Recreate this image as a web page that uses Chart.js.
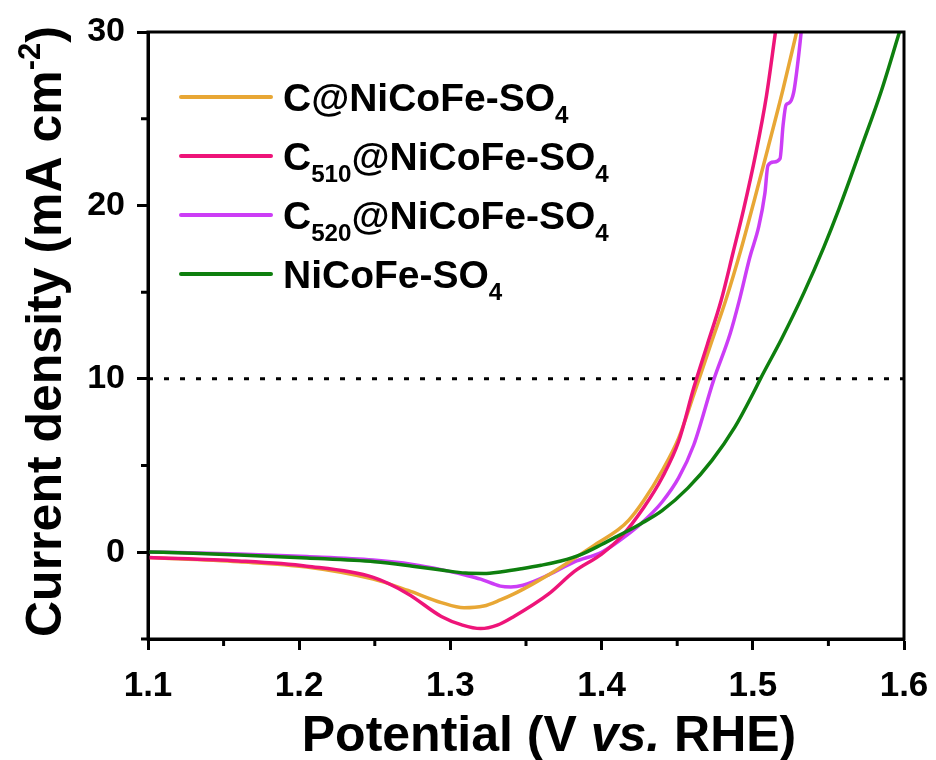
<!DOCTYPE html>
<html><head><meta charset="utf-8">
<script src="https://cdn.jsdelivr.net/npm/chart.js@4/dist/chart.umd.min.js"></script>
<style>html,body{margin:0;padding:0;background:#fff;}canvas{display:block;}</style>
</head><body>
<canvas id="c" width="936" height="760"></canvas>
<script>
// ---- series names & colours ----
const seriesNames = ['C@NiCoFe-SO₄', 'C₅₁₀@NiCoFe-SO₄', 'C₅₂₀@NiCoFe-SO₄', 'NiCoFe-SO₄'];
const seriesColors = ['#E8A735', '#EE1479', '#CC3DF6', '#0E7F0E'];

// ---- C@NiCoFe-SO4 ----
const potentialC = [1.100,1.160,1.205,1.249,1.272,1.294,1.309,1.322,1.333,1.342,1.354,1.365,1.382,1.395,1.411,1.418,1.428,1.440,1.451,1.461,1.473,1.482,1.492,1.501,1.510,1.520,1.529];
const currentC   = [-0.30,-0.55,-0.85,-1.55,-2.20,-2.90,-3.20,-3.10,-2.75,-2.40,-1.85,-1.30,-0.35,0.40,1.30,1.85,3.00,4.70,6.60,9.10,12.2,14.5,17.4,20.3,23.3,26.7,30.0];

// ---- C510@NiCoFe-SO4 ----
const potentialC510 = [1.100,1.160,1.205,1.249,1.272,1.294,1.308,1.320,1.331,1.342,1.365,1.382,1.400,1.413,1.428,1.440,1.451,1.461,1.470,1.479,1.487,1.494,1.502,1.509,1.515];
const currentC510   = [-0.30,-0.50,-0.80,-1.45,-2.40,-3.70,-4.20,-4.40,-4.20,-3.70,-2.40,-1.10,-0.10,0.90,2.60,4.30,6.40,9.50,12.0,14.5,17.3,19.8,23.0,26.3,30.0];

// ---- C520@NiCoFe-SO4 ----
const potentialC520 = [1.100,1.160,1.205,1.249,1.275,1.294,1.309,1.320,1.333,1.340,1.348,1.365,1.382,1.400,1.413,1.426,1.440,1.451,1.461,1.474,1.485,1.491,1.498,1.504,1.508,1.510,1.514,1.518,1.520,1.522,1.524,1.527,1.530,1.532];
const currentC520   = [0.02,-0.10,-0.25,-0.45,-0.70,-1.00,-1.30,-1.55,-1.95,-2.00,-1.90,-1.30,-0.55,0.00,0.75,1.65,2.90,4.30,6.20,9.90,12.6,14.5,17.0,18.8,20.7,22.3,22.5,22.7,24.6,25.8,25.9,26.5,28.4,30.0];

// ---- NiCoFe-SO4 ----
const potentialBare = [1.100,1.130,1.160,1.205,1.250,1.275,1.294,1.310,1.322,1.334,1.347,1.360,1.373,1.387,1.400,1.411,1.426,1.440,1.457,1.473,1.488,1.501,1.505,1.519,1.534,1.547,1.557,1.572,1.585,1.597];
const currentBare   = [0.02,-0.05,-0.15,-0.33,-0.55,-0.80,-1.02,-1.20,-1.22,-1.12,-0.95,-0.75,-0.50,-0.10,0.45,0.95,1.65,2.40,3.70,5.30,7.20,9.30,10.0,12.3,15.0,17.6,19.8,23.4,26.6,30.0];

// ---- axes ----
const xMajorTicks = [1.1, 1.2, 1.3, 1.4, 1.5, 1.6];
const xTickLabels = ['1.1', '1.2', '1.3', '1.4', '1.5', '1.6'];
const xMinorTicks = [1.15, 1.25, 1.35, 1.45, 1.55];
const yMajorTicks = [0, 10, 20, 30];
const yTickLabels = ['0', '10', '20', '30'];
const yMinorTicks = [-5, 5, 15, 25];
const xRange = [1.1, 1.6];
const yRange = [-5, 30];
const referenceCurrent = 10;
const xTitle = 'Potential (V vs. RHE)';
const xTitleItalic = 'vs.';
const yTitle = 'Current density (mA cm⁻²)';

const FONT = '"Liberation Sans", Arial, sans-serif';
const potentials = [potentialC, potentialC510, potentialC520, potentialBare];
const currents = [currentC, currentC510, currentC520, currentBare];

const datasets = seriesNames.map((name, i) => ({
  label: name,
  data: potentials[i].map((x, k) => ({x, y: currents[i][k]})),
  borderColor: seriesColors[i],
  backgroundColor: seriesColors[i],
  borderWidth: 3.5,
  pointRadius: 0,
  tension: 0.4,
  cubicInterpolationMode: 'monotone',
  fill: false,
  isSeries: true,
  order: [2, 1, 3, 0][i]
}));
datasets.push({
  label: 'ref',
  data: xRange.map(x => ({x, y: referenceCurrent})),
  borderColor: '#000',
  borderWidth: 3,
  borderDash: [5, 11],
  pointRadius: 0,
  fill: false,
  isSeries: false,
  order: 5
});

const SUBS = {'₀':'0','₁':'1','₂':'2','₃':'3','₄':'4','₅':'5','₆':'6','₇':'7','₈':'8','₉':'9'};
const SUPS = {'⁻':'-','²':'2','³':'3','¹':'1'};
function runsOf(text) {
  const runs = [];
  for (const ch of text) {
    let kind = 'n', c = ch;
    if (SUBS[ch] !== undefined) { kind = 'sub'; c = SUBS[ch]; }
    else if (SUPS[ch] !== undefined) { kind = 'sup'; c = SUPS[ch]; }
    const last = runs[runs.length - 1];
    if (last && last.kind === kind) last.t += c; else runs.push({t: c, kind});
  }
  return runs;
}
function richWidth(ctx, text, size) {
  let w = 0;
  for (const r of runsOf(text)) {
    ctx.font = `bold ${r.kind === 'n' ? size : size * 0.62}px ${FONT}`;
    w += ctx.measureText(r.t).width;
  }
  return w;
}
function drawRich(ctx, text, x, y, size) {
  for (const r of runsOf(text)) {
    const s = r.kind === 'n' ? size : size * 0.62;
    ctx.font = `bold ${s}px ${FONT}`;
    const dy = r.kind === 'sub' ? size * 0.3 : (r.kind === 'sup' ? -size * 0.42 : 0);
    ctx.fillText(r.t, x, y + dy);
    x += ctx.measureText(r.t).width;
  }
  return x;
}

const decor = {
  id: 'decor',
  afterDraw(chart) {
    const ctx = chart.ctx, a = chart.chartArea, xs = chart.scales.x, ys = chart.scales.y;
    ctx.save();
    ctx.strokeStyle = '#000';
    ctx.lineWidth = 3;
    ctx.strokeRect(a.left, a.top, a.right - a.left, a.bottom - a.top);
    // minor ticks
    ctx.beginPath();
    xMinorTicks.forEach(v => { const p = xs.getPixelForValue(v); ctx.moveTo(p, a.bottom); ctx.lineTo(p, a.bottom + 7); });
    yMinorTicks.forEach(v => { const p = ys.getPixelForValue(v); ctx.moveTo(a.left, p); ctx.lineTo(a.left - 7, p); });
    ctx.stroke();
    ctx.fillStyle = '#000';
    ctx.textBaseline = 'alphabetic';
    ctx.textAlign = 'left';
    // x title
    const ts = 50;
    const idx = xTitle.indexOf(xTitleItalic);
    const parts = [[xTitle.slice(0, idx), false], [xTitleItalic, true], [xTitle.slice(idx + xTitleItalic.length), false]];
    let tw = 0;
    parts.forEach(([t, it]) => { ctx.font = `${it ? 'italic ' : ''}bold ${ts}px ${FONT}`; tw += ctx.measureText(t).width; });
    let x0 = 549 - tw / 2;
    parts.forEach(([t, it]) => { ctx.font = `${it ? 'italic ' : ''}bold ${ts}px ${FONT}`; ctx.fillText(t, x0, 751); x0 += ctx.measureText(t).width; });
    // y title
    ctx.save();
    ctx.translate(61, (a.top + a.bottom) / 2 - 4);
    ctx.rotate(-Math.PI / 2);
    const yw = richWidth(ctx, yTitle, ts);
    drawRich(ctx, yTitle, -yw / 2, 0, ts);
    ctx.restore();
    // legend
    const items = chart.data.datasets.filter(d => d.isSeries);
    items.forEach((d, i) => {
      const ly = 97 + i * 59;
      ctx.strokeStyle = d.borderColor;
      ctx.lineWidth = 4;
      ctx.lineCap = 'round';
      ctx.beginPath(); ctx.moveTo(181, ly); ctx.lineTo(271, ly); ctx.stroke();
      ctx.fillStyle = '#000';
      drawRich(ctx, d.label, 283, ly + 14, 39);
    });
    ctx.restore();
  }
};

function buildTicks(major, minor) {
  return scale => {
    scale.ticks = [...major, ...minor].sort((p, q) => p - q).map(v => ({value: v}));
  };
}

new Chart(document.getElementById('c'), {
  type: 'line',
  data: {datasets},
  options: {
    responsive: false,
    animation: false,
    devicePixelRatio: 1,
    layout: {padding: {top: 32, right: 32, left: 0, bottom: 0}},
    plugins: {legend: {display: false}, tooltip: {enabled: false}},
    scales: {
      x: {
        type: 'linear', min: xRange[0], max: xRange[1],
        afterBuildTicks: buildTicks(xMajorTicks, xMinorTicks),
        afterFit: s => { s.height = 121; s.paddingLeft = 0; s.paddingRight = 0; },
        border: {display: true, color: '#000', width: 3},
        grid: {display: true, drawOnChartArea: false, drawTicks: true, tickLength: 11, tickWidth: 3,
               tickColor: c => xMajorTicks.some(v => Math.abs(v - c.tick.value) < 1e-6) ? '#000' : 'rgba(0,0,0,0)',
               color: 'rgba(0,0,0,0)'},
        ticks: {
          autoSkip: false, maxRotation: 0, padding: 15, color: '#000',
          font: {family: FONT, size: 35, weight: 'bold'},
          callback: v => { const k = xMajorTicks.findIndex(m => Math.abs(m - v) < 1e-6); return k >= 0 ? xTickLabels[k] : ''; }
        }
      },
      y: {
        type: 'linear', min: yRange[0], max: yRange[1],
        afterBuildTicks: buildTicks(yMajorTicks, yMinorTicks),
        afterFit: s => { s.width = 148; s.paddingTop = 0; s.paddingBottom = 0; },
        border: {display: true, color: '#000', width: 3},
        grid: {display: true, drawOnChartArea: false, drawTicks: true, tickLength: 11, tickWidth: 3,
               tickColor: c => yMajorTicks.includes(c.tick.value) ? '#000' : 'rgba(0,0,0,0)',
               color: 'rgba(0,0,0,0)'},
        ticks: {
          autoSkip: false, padding: 12, color: '#000',
          font: {family: FONT, size: 34, weight: 'bold'},
          callback: v => { const k = yMajorTicks.indexOf(v); return k >= 0 ? yTickLabels[k] : ''; }
        }
      }
    }
  },
  plugins: [decor]
});
</script>
</body></html>
